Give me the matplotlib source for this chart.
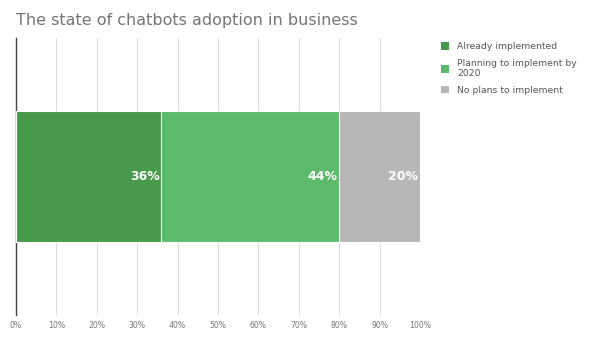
import matplotlib.pyplot as plt
from matplotlib.patches import Patch

# Datos
categories = ["Already implemented", "Planning to implement by\n2020", "No plans to implement"]
values = [36, 44, 20]
colors = ["#47994c", "#5cbb6b", "#b7b7b7"]
ticks = list(range(0, 101, 10))

fig = plt.figure(figsize=(5.97, 3.45), dpi=100, facecolor="white")
ax = fig.add_axes([16 / 597, 1 - 315 / 345, 404 / 597, 277 / 345])

left = 0
for cat, val, col in zip(categories, values, colors):
    ax.barh(0, val, left=left, height=0.473, color=col, edgecolor="white", linewidth=0.8, zorder=3)
    ax.text(left + val - 0.4, 0, f"{val}%", ha="right", va="center", color="white",
            fontsize=9, fontweight="bold", zorder=4)
    left += val

ax.set_xlim(0, 100)
ax.set_ylim(-0.5, 0.5)
ax.set_xticks(ticks)
ax.set_xticklabels([f"{t}%" for t in ticks], fontsize=5.6, color="#777777")
ax.set_yticks([])
ax.grid(axis="x", color="#dddddd", linewidth=0.8, zorder=0)
ax.tick_params(axis="x", length=0, pad=4)
for s in ["top", "right", "bottom"]:
    ax.spines[s].set_visible(False)
ax.spines["left"].set_color("#444444")
ax.spines["left"].set_linewidth(1)

fig.text(16 / 597, 1 - 21 / 345, "The state of chatbots adoption in business",
         fontsize=11.5, color="#757575", va="center", ha="left")

handles = [Patch(facecolor=c, edgecolor="none") for c in colors]
fig.legend(handles, categories, loc="upper left", bbox_to_anchor=(433 / 597, 1 - 34 / 345),
           frameon=False, fontsize=6.7, labelcolor="#555555", handlelength=0.85,
           handleheight=0.85, handletextpad=0.85, labelspacing=0.8)

plt.savefig("out.png", dpi=100)
